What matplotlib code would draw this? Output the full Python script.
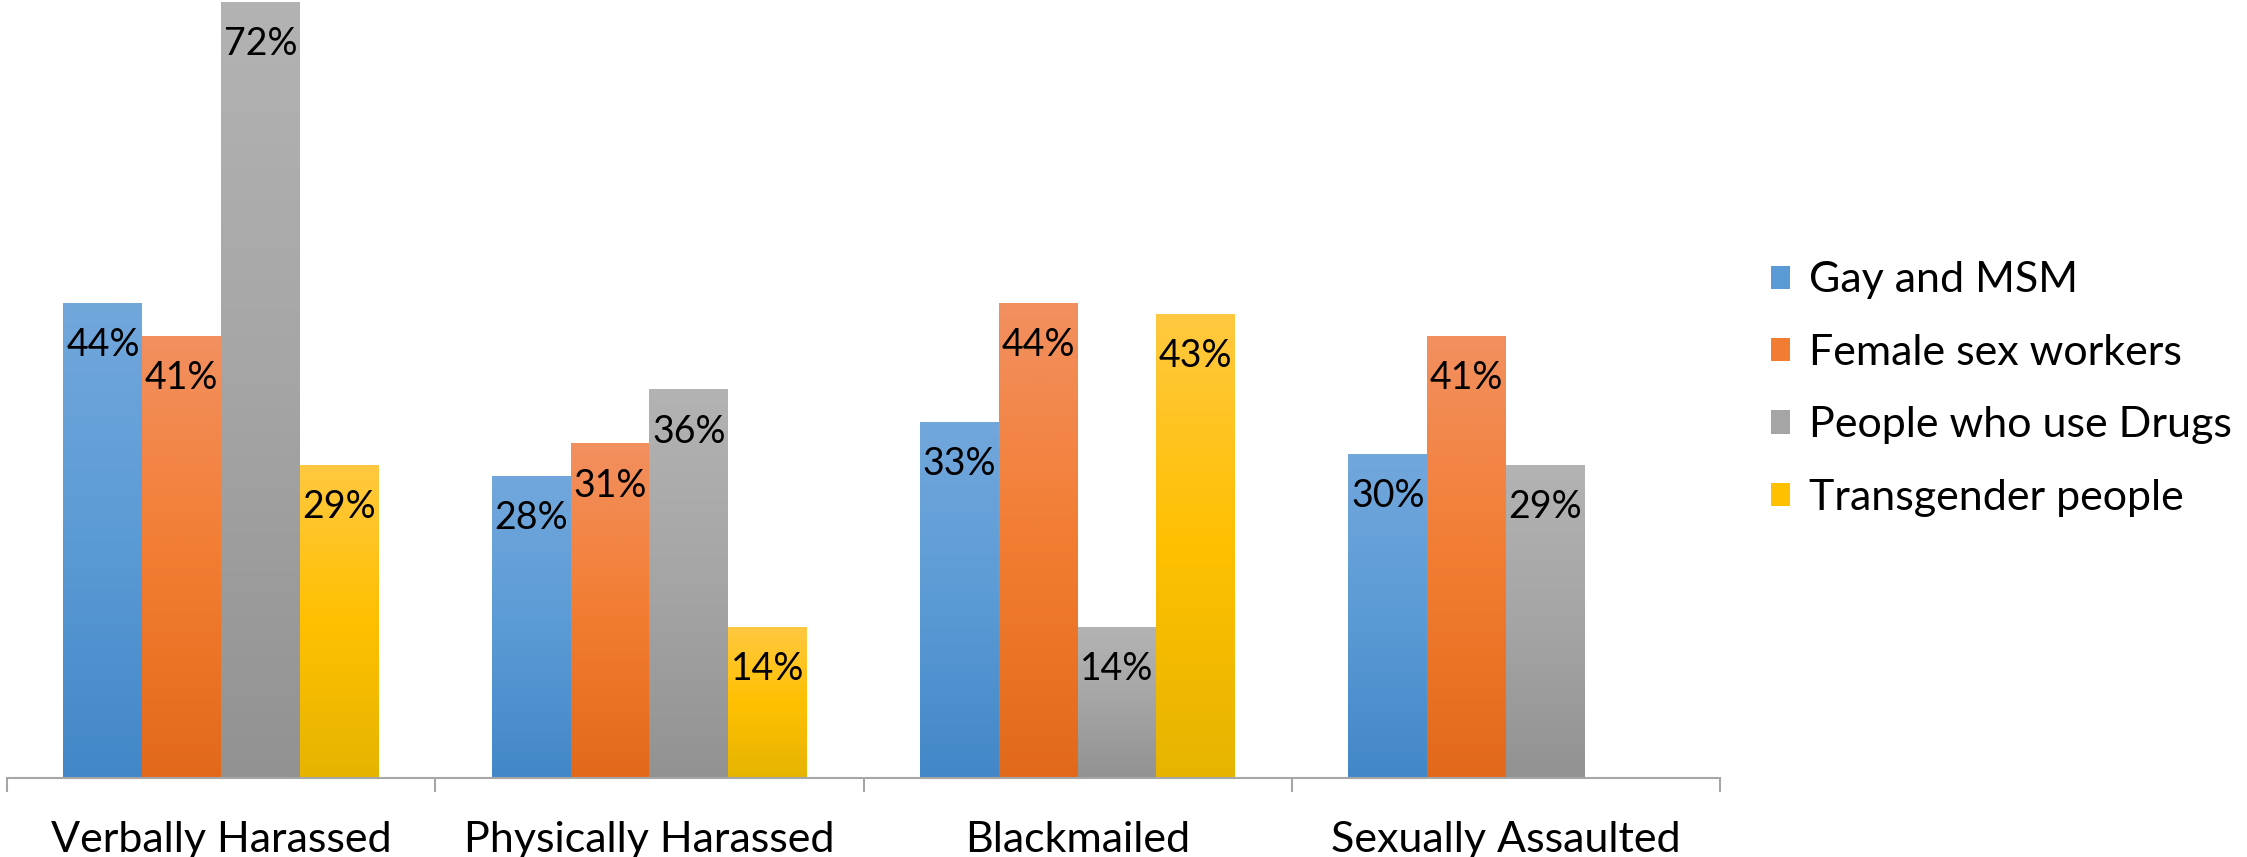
import numpy as np
import matplotlib
matplotlib.use('Agg')
import matplotlib.pyplot as plt
from matplotlib.colors import LinearSegmentedColormap
from matplotlib.patches import Patch


categories = ['Verbally Harassed', 'Physically Harassed', 'Blackmailed', 'Sexually Assaulted']
series_names = ['Gay and MSM', 'Female sex workers', 'People who use Drugs', 'Transgender people']
gay_msm = [44, 28, 33, 30]
female_sw = [41, 31, 44, 41]
drug_users = [72, 36, 14, 29]
transgender = [29, 14, 43, np.nan]

# top, middle, bottom colours of each bar gradient
gradients = [
    ['#72a7dc', '#5b9bd5', '#4287c8'],
    ['#f29060', '#f27d32', '#e2691a'],
    ['#b3b3b3', '#a5a5a5', '#929292'],
    ['#ffc840', '#ffc000', '#e6b400'],
]

plt.rcParams['font.family'] = ['Lato', 'DejaVu Sans']

fig = plt.figure(figsize=(22.47, 8.57), dpi=100)
ax = fig.add_axes([0.0031, 0.0922, 0.7624, 0.9055])

x = np.arange(len(categories))
width = 0.184
all_series = [gay_msm, female_sw, drug_users, transgender]

for i, (vals, cols) in enumerate(zip(all_series, gradients)):
    cmap = LinearSegmentedColormap.from_list('g%d' % i, cols[::-1])
    grad = np.linspace(0, 1, 256).reshape(-1, 1)
    offs = (i - 1.5) * width
    bars = ax.bar(x + offs, vals, width, color='none', edgecolor='none')
    for b, v in zip(bars, vals):
        if np.isnan(v):
            continue
        x0, w, h = b.get_x(), b.get_width(), b.get_height()
        ax.imshow(grad, cmap=cmap, extent=(x0, x0 + w, 0, h), origin='lower',
                  aspect='auto', zorder=2)
        ax.annotate('%d%%' % v, (x0 + w / 2, h), xytext=(0, -30),
                    textcoords='offset points', ha='center', va='center',
                    fontsize=27, color='black', zorder=3)

ax.set_xlim(-0.5, len(categories) - 0.5)
ax.set_ylim(0, 72)

for s in ['left', 'right', 'top']:
    ax.spines[s].set_visible(False)
ax.spines['bottom'].set_color('#a6a6a6')
ax.spines['bottom'].set_linewidth(1.5)
ax.set_yticks([])

ax.set_xticks(np.arange(len(categories) + 1) - 0.5)
ax.set_xticklabels([])
ax.tick_params(axis='x', which='major', length=10, width=1.5, color='#a6a6a6')
ax.set_xticks(x, minor=True)
ax.set_xticklabels(categories, minor=True, fontsize=31)
ax.tick_params(axis='x', which='minor', length=0, pad=31)

handles = [Patch(facecolor=c[1]) for c in gradients]
fig.legend(handles, series_names, loc='center left', bbox_to_anchor=(0.788, 0.546),
           frameon=False, fontsize=31, handlelength=0.45, handleheight=0.45,
           handletextpad=0.45, labelspacing=0.8, borderaxespad=0, borderpad=0)

fig.savefig('out.png', dpi=100)
